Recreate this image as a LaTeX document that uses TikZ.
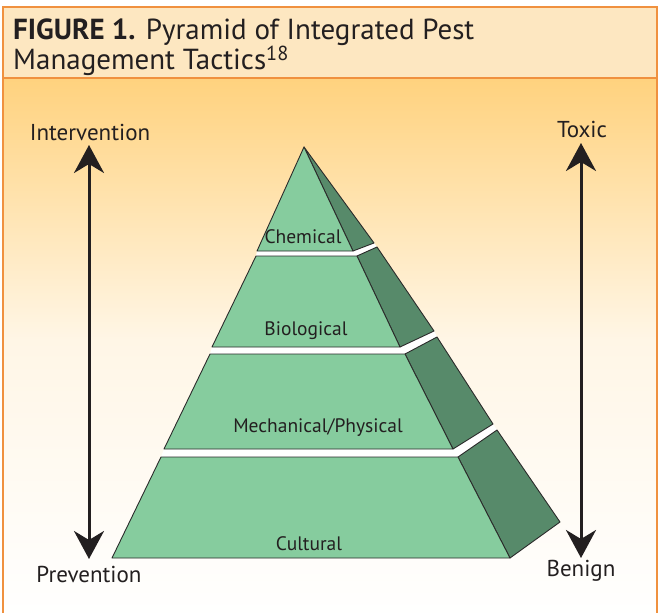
\documentclass[tikz,border=0pt]{standalone}
\usepackage{fontspec}
\setmainfont{PT Sans}
\usepackage{xcolor}
\usepackage{tikz}
\usetikzlibrary{arrows.meta}

\definecolor{frameorange}{HTML}{F0913F}
\definecolor{titlepeach}{HTML}{FDE7C1}
\definecolor{panelorange}{HTML}{FFD27E}
\definecolor{panelcream}{HTML}{FFF6E6}
\definecolor{frontgreen}{HTML}{86CC9E}
\definecolor{sidegreen}{HTML}{578A6A}
\definecolor{edgegray}{HTML}{2B2B2B}
\definecolor{inkgray}{HTML}{231F20}

\begin{document}
\begin{tikzpicture}[x=1pt, y=-1pt,
  front/.style={fill=frontgreen, draw=edgegray, line width=0.9pt, line join=round},
  side/.style={fill=sidegreen, draw=edgegray, line width=0.9pt, line join=round},
  tierlabel/.style={font=\fontsize{19.5}{22}\selectfont, text=inkgray},
  axislabel/.style={font=\fontsize{23}{25}\selectfont, text=inkgray},
  axis/.style={line width=3pt, inkgray,
    {Stealth[length=28pt, width=30pt, inset=9pt]}-{Stealth[length=28pt, width=30pt, inset=9pt]}}]
  \useasboundingbox (0,0) rectangle (660,612);

  % panel background
  \shade[top color=panelorange, bottom color=panelcream] (3,78) rectangle (657,340);
  \shade[top color=panelcream, bottom color=white] (3,340) rectangle (657,620);
  \fill[titlepeach] (3,7) rectangle (657,78);
  \draw[frameorange, line width=1.5pt] (3,78) -- (657,78);
  \draw[frameorange, line width=1.5pt] (3,620) -- (3,7) -- (657,7) -- (657,620);

  % title
  \node[anchor=base west, inner sep=0pt, align=left, text=inkgray, font=\fontsize{29}{29}\selectfont] (title) at (13,70)
    {\textbf{FIGURE 1.} Pyramid of Integrated Pest\\Management Tactics\textsuperscript{18}};

  % white gaps between tiers
  \fill[white] (257,251) -- (353,251) -- (374,243) -- (377,247) -- (357,256) -- (256,256) -- cycle;
  \fill[white] (212,347) -- (400,347) -- (434,331) -- (437,337) -- (405,354) -- (210,354) -- cycle;
  \fill[white] (164,449) -- (453,449) -- (493,424) -- (497,430) -- (458,457) -- (161,457) -- cycle;

  % chemical
  \draw[side] (304,147) -- (374,243) -- (353,251) -- cycle;
  \draw[front] (304,147) -- (353,251) -- (257,251) -- cycle;
  % biological
  \draw[side] (357,256) -- (377,247) -- (434,331) -- (400,347) -- cycle;
  \draw[front] (256,256) -- (357,256) -- (400,347) -- (212,347) -- cycle;
  % mechanical/physical
  \draw[side] (405,354) -- (437,337) -- (493,424) -- (453,449) -- cycle;
  \draw[front] (210,354) -- (405,354) -- (453,449) -- (164,449) -- cycle;
  % cultural
  \draw[side] (458,457) -- (497,430) -- (560,522) -- (510,558) -- cycle;
  \draw[front] (161,457) -- (458,457) -- (510,558) -- (112,558) -- cycle;

  \node[tierlabel] (chemical) at (303,237) {Chemical};
  \node[tierlabel] (biological) at (306,331) {Biological};
  \node[tierlabel] (mechanical) at (318,428) {Mechanical/Physical};
  \node[tierlabel] (cultural) at (309,544) {Cultural};

  % side axes
  \node[axislabel] (intervention) at (90,132) {Intervention};
  \node[axislabel] (prevention) at (89,574) {Prevention};
  \node[axislabel] (toxic) at (582,129) {Toxic};
  \node[axislabel] (benign) at (581,571) {Benign};

  \coordinate (leftTop) at (89,145);
  \coordinate (leftBot) at (89,559);
  \coordinate (rightTop) at (581,143);
  \coordinate (rightBot) at (581,558);
  \draw[axis] (leftTop) -- (leftBot);
  \draw[axis] (rightTop) -- (rightBot);
\end{tikzpicture}
\end{document}
